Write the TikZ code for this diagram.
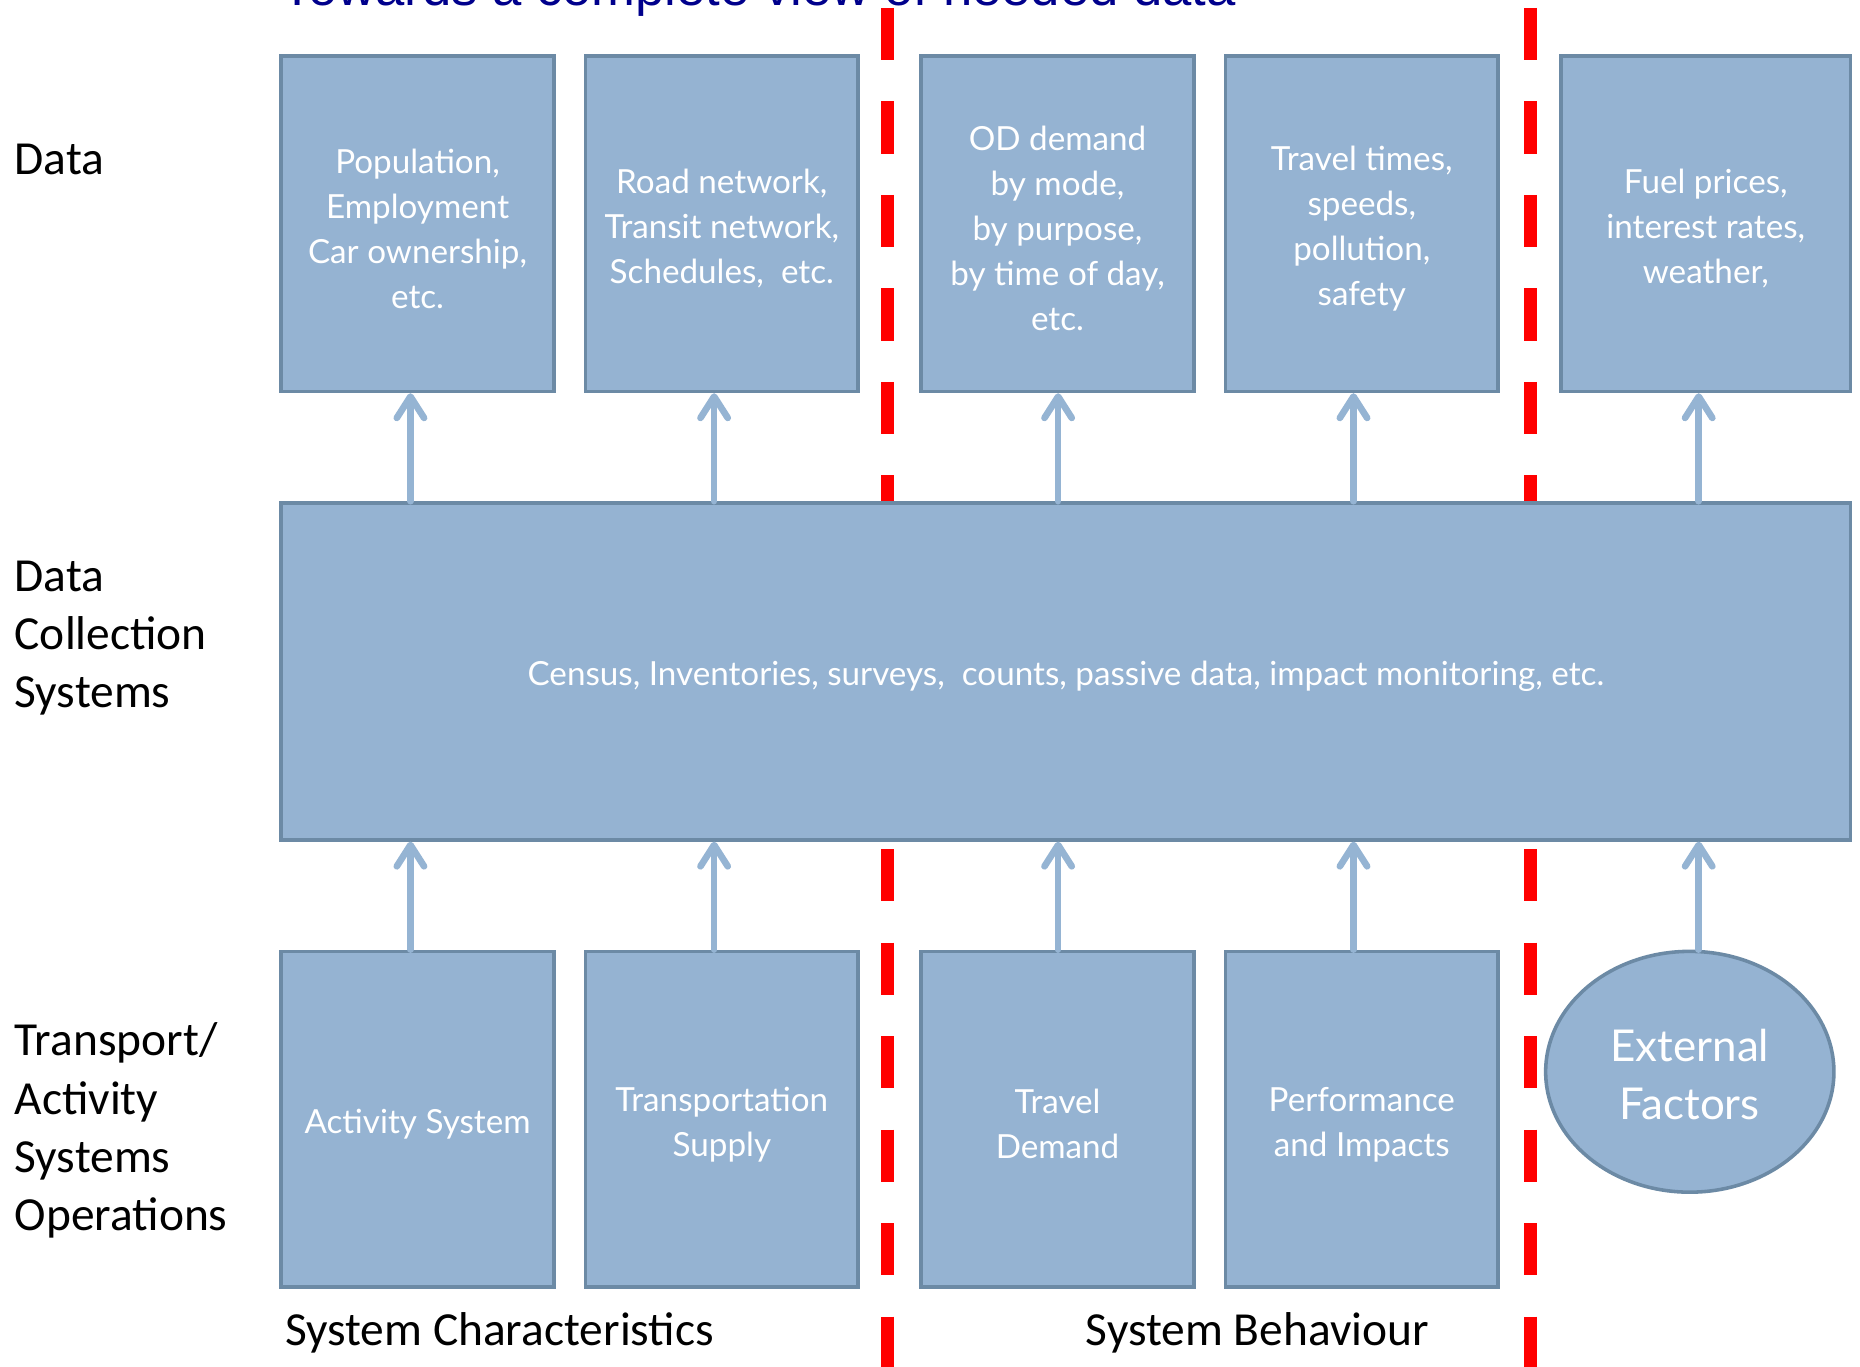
\documentclass[tikz,border=0pt]{standalone}
\usepackage{fontspec}
\setmainfont{Carlito}
\newfontfamily\boxfam{Lato}
\newfontfamily\titlefam{Liberation Sans}
\usetikzlibrary{arrows.meta,shapes.geometric}
\definecolor{boxfill}{RGB}{149,179,210}
\definecolor{boxline}{RGB}{108,138,165}
\definecolor{arrowc}{RGB}{149,180,211}
\definecolor{navyc}{RGB}{0,0,140}
\newcommand{\boxpad}{\rule{0pt}{14.5pt}}
\newcommand{\ellpad}{\rule{0pt}{16pt}}
\begin{document}
\begin{tikzpicture}[x=0.5pt,y=-0.5pt,
  databox/.style={draw=boxline, fill=boxfill, line width=1.5pt, text=white,
    font=\boxfam\fontsize{14pt}{19pt}\selectfont, align=center, inner sep=0pt,
    minimum width=115pt, minimum height=141.5pt},
  extellipse/.style={ellipse, draw=boxline, fill=boxfill, line width=1.5pt, text=white,
    font=\boxfam\fontsize{18.5pt}{24.5pt}\selectfont, align=center, inner sep=0pt,
    minimum width=121.5pt, minimum height=101.5pt},
  lbl/.style={font=\fontsize{20pt}{24.5pt}\selectfont, inner sep=0pt, text=black},
  titletext/.style={font=\titlefam\fontsize{22.2pt}{26pt}\selectfont, text=navyc, inner sep=0pt},
  divider/.style={draw=red, line width=5.5pt, dash pattern=on 22pt off 17.4pt},
  arr/.style={draw=arrowc, line width=2.8pt, line cap=round,
    -{Straight Barb[length=9pt,width=11.5pt,line join=round,line cap=round]}}
]
\useasboundingbox (0,0) rectangle (1568,1152);
\clip (0,0) rectangle (1568,1152);
\fill[white] (0,0) rectangle (1568,1152);

% title (cut at top, as in the reference)
\node[titletext, anchor=base west] (title) at (237,5) {Towards a complete view of needed data};

% dashed dividers
\coordinate (d1top) at (748,6.7);
\coordinate (d1bot) at (748,1170);
\coordinate (d2top) at (1290,6.7);
\coordinate (d2bot) at (1290,1170);
\draw[divider] (d1top) -- (d1bot);
\draw[divider] (d2top) -- (d2bot);

% data row
\node[databox] (A1) at (352,188.5) {\boxpad Population,\\Employment\\Car ownership,\\etc.};
\node[databox] (A2) at (608.5,188.5) {\boxpad Road network,\\Transit network,\\Schedules,\ \ etc.};
\node[databox] (A3) at (891.5,188.5) {\boxpad OD demand\\by mode,\\by purpose,\\by time of day,\\etc.};
\node[databox] (A4) at (1148,188.5) {\boxpad Travel times,\\speeds,\\pollution,\\safety};
\node[databox, minimum width=122pt] (A5) at (1438,188.5) {\boxpad Fuel prices,\\interest rates,\\weather,};

% collection systems
\node[databox, minimum width=661.5pt, minimum height=142pt] (C) at (898.5,566)
  {\boxpad Census, Inventories, surveys,\ \ counts, passive data, impact monitoring, etc.};

% operations row
\node[databox] (B1) at (352,943.5) {\boxpad Activity System};
\node[databox] (B2) at (608.5,943.5) {\boxpad Transportation\\Supply};
\node[databox] (B3) at (891.5,943.5) {\boxpad Travel\\Demand};
\node[databox] (B4) at (1148,943.5) {\boxpad Performance\\and Impacts};
\node[extellipse] (E) at (1424.5,903.5) {\ellpad External\\Factors};

% arrows
\coordinate (x1) at (346,0);
\coordinate (x2) at (602,0);
\coordinate (x3) at (892,0);
\coordinate (x4) at (1141,0);
\coordinate (x5) at (1432,0);
\draw[arr] (C.north -| x1) -- (A1.south -| x1);
\draw[arr] (C.north -| x2) -- (A2.south -| x2);
\draw[arr] (C.north -| x3) -- (A3.south -| x3);
\draw[arr] (C.north -| x4) -- (A4.south -| x4);
\draw[arr] (C.north -| x5) -- (A5.south -| x5);
\draw[arr] (B1.north -| x1) -- (C.south -| x1);
\draw[arr] (B2.north -| x2) -- (C.south -| x2);
\draw[arr] (B3.north -| x3) -- (C.south -| x3);
\draw[arr] (B4.north -| x4) -- (C.south -| x4);
\draw[arr] (E.north -| x5) -- (C.south -| x5);

% row labels
\node[lbl, anchor=west] (L1) at (12,134) {Data};
\node[lbl, anchor=west, align=left] (L2) at (12,538) {Data\\Collection\\Systems};
\node[lbl, anchor=west, align=left] (L3) at (12,953) {Transport/\\Activity\\Systems\\Operations};
\node[lbl, anchor=west] (S1) at (240,1124) {System Characteristics};
\node[lbl, anchor=west] (S2) at (915,1124) {System Behaviour};
\end{tikzpicture}
\end{document}
